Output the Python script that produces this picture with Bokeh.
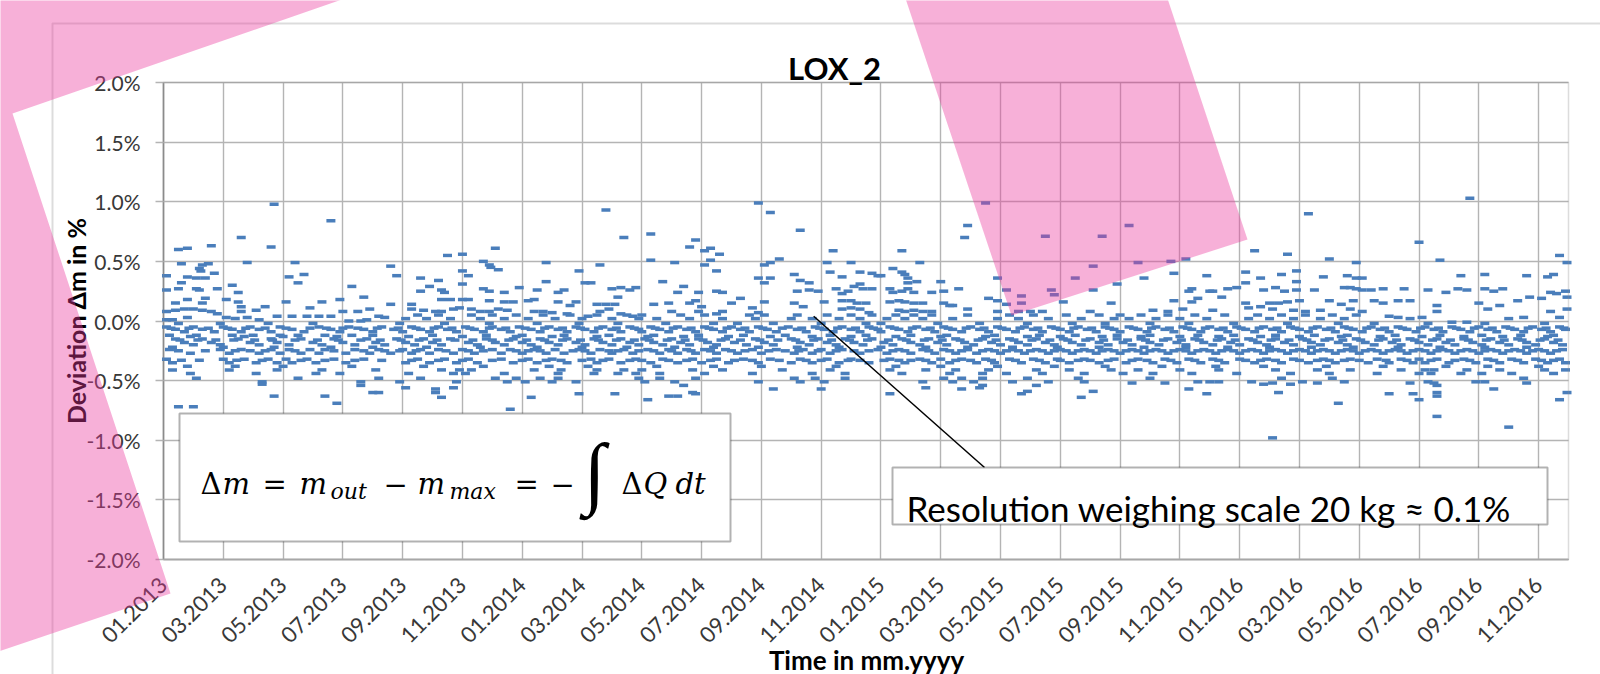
import math
from bokeh.plotting import figure
from bokeh.models import (FixedTicker, PrintfTickFormatter, Label, BoxAnnotation,
                          PolyAnnotation, Arrow, ColumnDataSource, Range1d)
from bokeh.embed import file_html
from bokeh.resources import INLINE

# ---------------- data (x = months since 01.2013, y = deviation in %) ----------------
x_tick_months = list(range(0, 47, 2))
x_tick_labels = ["01.2013", "03.2013", "05.2013", "07.2013", "09.2013", "11.2013",
                 "01.2014", "03.2014", "05.2014", "07.2014", "09.2014", "11.2014",
                 "01.2015", "03.2015", "05.2015", "07.2015", "09.2015", "11.2015",
                 "01.2016", "03.2016", "05.2016", "07.2016", "09.2016", "11.2016"]
y_ticks = [-2.0, -1.5, -1.0, -0.5, 0.0, 0.5, 1.0, 1.5, 2.0]

# readings that sit on the scale-resolution rows: months per deviation level
months_p005 = [8.5, 9.2, 10.3, 11.0, 11.8, 12.7, 13.6, 14.5, 15.5, 16.0, 17.3, 18.1, 19.6, 20.1, 21.2,
               22.2, 23.0, 23.7, 24.5, 25.1, 25.7, 26.9, 28.3, 29.1, 30.2, 31.3, 32.0, 32.7, 33.6, 34.5,
               35.5, 36.6, 37.4, 38.2, 39.1, 39.9]
months_p002 = [8.1, 8.8, 9.6, 10.6, 11.4, 12.2, 13.1, 14.0, 15.0, 15.9, 16.5, 17.6, 18.7, 19.8, 21.0,
               21.7, 22.6, 23.3, 24.2, 24.8, 25.4, 26.4, 27.9, 28.6, 29.6, 30.7, 31.8, 32.3, 33.2, 34.0,
               34.9, 36.3, 37.0, 37.8, 38.7, 39.5]
months_m002 = [0.5, 1.9, 3.5, 5.0, 7.9, 9.4, 10.9, 12.5, 13.9, 15.2, 16.8, 18.4, 19.2, 20.4, 22.0, 23.5,
               24.0, 25.9, 27.3, 28.9, 30.4, 31.5, 33.0, 34.3, 35.8, 37.6, 39.3, 40.5, 42.3, 44.2, 46.2]
months_m005 = [0.1, 1.0, 2.0, 2.9, 3.9, 5.2, 6.2, 7.3, 8.3, 9.2, 10.1, 11.0, 11.9, 12.9, 13.8, 14.7,
               15.6, 16.3, 17.2, 18.1, 19.0, 19.9, 20.9, 21.8, 22.7, 23.6, 24.3, 25.2, 26.1, 27.0, 27.9,
               28.8, 29.7, 30.6, 31.5, 32.3, 33.2, 34.1, 35.0, 35.9, 36.8, 37.7, 38.6, 39.5, 40.4, 41.3,
               42.2, 43.1, 44.0, 44.9, 45.8, 46.7]
months_m006 = [0.25, 0.85, 1.5, 2.15, 2.75, 3.4, 4.1, 4.9, 5.45, 6.0, 6.5, 7.15, 7.85, 8.45, 9.05, 9.65,
               10.25, 10.9, 11.45, 12.1, 12.75, 13.35, 13.95, 14.55, 15.15, 15.75, 16.45, 17.05, 17.65,
               18.25, 18.85, 19.45, 20.05, 20.7, 21.35, 21.95, 22.55, 23.15, 23.75, 24.45, 25.05, 25.65,
               26.25, 26.85, 27.45, 28.05, 28.65, 29.25, 29.85, 30.45, 31.05, 31.65, 32.45, 33.05, 33.65,
               34.25, 34.85, 35.45, 36.05, 36.65, 37.25, 37.85, 38.45, 39.05, 39.65, 40.25, 40.85, 41.45,
               42.05, 42.65, 43.25, 43.85, 44.45, 45.05, 45.65, 46.25, 46.85]
months_m007 = [0.4, 1.3, 2.3, 3.2, 4.3, 5.6, 6.7, 7.7, 8.6, 9.5, 10.4, 11.3, 12.3, 13.2, 14.1, 15.0,
               15.9, 16.6, 17.5, 18.4, 19.3, 20.2, 21.2, 22.1, 23.0, 23.9, 24.6, 25.5, 26.4, 27.3, 28.2,
               29.1, 30.0, 30.9, 31.8, 32.6, 33.5, 34.4, 35.3, 36.2, 37.1, 38.0, 38.9, 39.8, 40.7, 41.6,
               42.5, 43.4, 44.3, 45.2, 46.1, 46.9]
months_m009 = [0.7, 1.7, 2.6, 3.6, 4.7, 5.9, 7.0, 8.0, 8.9, 9.8, 10.7, 11.6, 12.6, 13.5, 14.4, 15.3,
               16.0, 16.9, 17.8, 18.7, 19.6, 20.5, 21.5, 22.4, 23.3, 24.0, 24.9, 25.8, 26.7, 27.6, 28.5,
               29.4, 30.3, 31.2, 32.0, 32.9, 33.8, 34.7, 35.6, 36.5, 37.4, 38.3, 39.2, 40.1, 41.0, 41.9,
               42.8, 43.7, 44.6, 45.5, 46.4]
months_m012 = [0.2, 1.1, 2.3, 3.0, 3.9, 4.5, 5.4, 6.3, 7.0, 9.0, 10.8, 12.0, 13.4, 14.9, 16.4, 17.9,
               19.4, 20.8, 22.3, 23.5, 25.0, 26.2, 27.8, 29.3, 30.5, 31.9, 33.0, 34.6, 35.8, 37.2, 38.5,
               39.6, 41.2, 42.7, 44.1, 45.4, 46.5]
months_m013 = [0.9, 2.7, 4.0, 5.8, 8.2, 10.0, 11.8, 13.0, 14.5, 16.2, 17.4, 18.9, 20.3, 21.7, 23.0, 24.5,
               26.0, 27.5, 28.9, 30.0, 31.4, 32.7, 34.0, 35.3, 36.7, 38.0, 39.4, 40.7, 42.1, 43.5, 44.8,
               46.3]
months_m015 = [0.4, 1.3, 2.5, 3.6, 4.6, 5.7, 6.8, 7.8, 8.7, 9.6, 10.8, 11.7, 12.6, 13.5, 14.4, 15.3,
               16.1, 17.0, 17.9, 18.8, 19.8, 21.0, 21.9, 22.8, 23.7, 24.7, 25.6, 26.5, 27.4, 28.3, 29.2,
               30.1, 31.0, 31.9, 32.7, 33.6, 34.5, 35.4, 36.3, 37.2, 38.1, 39.0, 39.9, 40.8, 41.7, 42.6,
               43.5, 44.4, 45.3, 46.2]
months_m016 = [0.55, 1.15, 1.75, 2.35, 3.05, 3.65, 4.4, 5.15, 5.85, 6.6, 7.25, 7.95, 8.55, 9.15, 9.75,
               10.35, 11.0, 11.55, 12.15, 12.75, 13.35, 13.95, 14.55, 15.15, 15.75, 16.25, 16.85, 17.45,
               18.05, 18.65, 19.3, 19.95, 20.55, 21.15, 21.75, 22.35, 22.95, 23.55, 24.25, 24.85, 25.45,
               26.05, 26.65, 27.25, 27.85, 28.45, 29.05, 29.65, 30.25, 30.85, 31.45, 32.25, 32.85, 33.45,
               34.05, 34.65, 35.25, 35.85, 36.45, 37.05, 37.65, 38.25, 38.85, 39.45, 40.05, 40.65, 41.25,
               41.85, 42.45, 43.05, 43.65, 44.25, 44.85, 45.45, 46.05, 46.65]
months_m018 = [0.7, 1.6, 2.9, 3.8, 5.0, 6.0, 7.1, 8.1, 9.0, 10.2, 11.1, 12.0, 12.9, 13.8, 14.7, 15.6,
               16.4, 17.3, 18.2, 19.1, 20.1, 21.3, 22.2, 23.1, 24.1, 25.0, 25.9, 26.8, 27.7, 28.6, 29.5,
               30.4, 31.3, 32.1, 33.0, 33.9, 34.8, 35.7, 36.6, 37.5, 38.4, 39.3, 40.2, 41.1, 42.0, 42.9,
               43.8, 44.7, 45.6, 46.5]
months_m020 = [1.0, 1.9, 3.2, 4.2, 5.3, 6.4, 7.4, 8.4, 9.3, 10.5, 11.4, 12.3, 13.2, 14.1, 15.0, 15.9,
               16.7, 17.6, 18.5, 19.5, 20.4, 21.6, 22.5, 23.4, 24.4, 25.3, 26.2, 27.1, 28.0, 28.9, 29.8,
               30.7, 31.6, 32.4, 33.3, 34.2, 35.1, 36.0, 36.9, 37.8, 38.7, 39.6, 40.5, 41.4, 42.3, 43.2,
               44.1, 45.0, 45.9, 46.8]
months_m022 = [0.3, 2.0, 3.7, 5.6, 7.0, 8.8, 10.6, 12.5, 14.0, 15.5, 17.1, 18.4, 19.9, 21.2, 22.6, 24.0,
               25.5, 26.9, 28.4, 29.9, 31.3, 32.8, 34.2, 35.6, 37.0, 38.4, 39.8, 41.3, 42.7, 44.2, 45.6]
months_m024 = [0.2, 1.9, 2.6, 3.6, 4.2, 4.9, 5.4, 6.4, 7.2, 8.0, 8.6, 9.2, 10.0, 11.0, 11.6, 12.4,
               13.1, 13.9, 14.6, 15.4, 16.2, 16.9, 17.5, 18.1, 18.8, 19.7, 20.5, 21.4, 22.0, 22.7, 23.9,
               24.6, 25.4, 26.1, 26.9, 27.6, 28.4, 29.2, 30.0, 30.8, 31.6, 32.4, 33.2, 34.0, 34.8, 35.6,
               36.4, 37.2, 38.0, 38.8, 39.6, 40.4, 41.2, 42.0, 42.8, 43.6, 44.4, 45.2, 46.0, 46.8]
months_m025 = [0.5, 1.4, 2.4, 2.9, 3.4, 4.4, 5.7, 6.7, 7.4, 7.9, 8.45, 9.45, 10.2, 10.7, 11.8, 12.2,
               12.6, 13.7, 14.1, 14.9, 15.2, 15.9, 16.4, 17.0, 17.65, 18.3, 19.0, 19.45, 20.25, 20.8,
               21.25, 21.9, 22.5, 23.1, 23.6, 24.4, 24.8, 25.6, 26.3, 26.7, 27.4, 27.8, 28.2, 28.6, 29.0,
               29.4, 29.8, 30.2, 30.6, 31.0, 31.4, 31.8, 32.2, 32.6, 33.0, 33.4, 33.8, 34.2, 34.6, 35.0,
               35.4, 35.8, 36.2, 36.6, 37.0, 37.4, 37.8, 38.2, 38.6, 39.0, 39.4, 39.8, 40.2, 40.6, 41.0,
               41.4, 41.8, 42.2, 42.6, 43.0, 43.4, 43.8, 44.2, 44.6, 45.0, 45.4, 45.8, 46.2, 46.6]
months_m027 = [0.9, 2.2, 3.2, 3.9, 4.6, 5.2, 6.1, 6.9, 7.6, 8.3, 8.9, 9.7, 10.4, 11.3, 12.0, 12.8,
               13.4, 14.3, 15.0, 15.7, 16.6, 17.2, 17.8, 18.5, 19.2, 20.0, 21.1, 21.7, 22.3, 23.3, 24.2,
               25.0, 25.8, 26.5, 27.2, 28.0, 28.8, 29.6, 30.4, 31.2, 32.0, 32.8, 33.6, 34.4, 35.2, 36.0,
               36.8, 37.6, 38.4, 39.2, 40.0, 40.8, 41.6, 42.4, 43.2, 44.0, 44.8, 45.6, 46.4]
months_m032 = [0.1, 2.0, 2.7, 3.5, 4.1, 4.8, 5.7, 6.7, 8.5, 9.4, 10.2, 11.3, 12.2, 13.0, 14.3, 14.9,
               15.8, 16.7, 17.7, 18.5, 19.4, 20.3, 21.3, 22.2, 23.0, 24.3, 25.3, 26.0, 26.7, 27.5, 28.3,
               29.1, 29.9, 30.8, 31.8, 32.6, 33.5, 34.3, 35.1, 36.0, 36.9, 37.8, 38.8, 39.7, 40.6, 41.4,
               42.0, 42.6, 43.5, 44.3, 45.1, 45.9, 46.7]
months_m033 = [0.6, 1.2, 2.45, 3.3, 4.6, 5.4, 6.4, 7.3, 8.3, 9.2, 10.0, 11.0, 12.0, 12.8, 13.3, 14.0,
               14.7, 15.6, 16.0, 16.9, 17.5, 18.3, 19.1, 19.7, 20.6, 21.5, 22.0, 22.9, 23.3, 24.1, 24.6,
               25.0, 25.5, 26.5, 27.0, 27.7, 28.5, 29.3, 30.0, 30.6, 31.0, 31.6, 32.4, 32.9, 33.7, 34.5,
               35.3, 36.2, 36.7, 37.2, 38.0, 38.6, 39.0, 39.5, 40.0, 40.9, 41.6, 42.4, 43.2, 43.7, 44.5,
               45.3, 46.1, 46.5]
months_m035 = [0.3, 2.2, 3.1, 3.8, 4.3, 5.1, 6.1, 8.1, 8.9, 9.8, 10.5, 11.7, 12.5, 13.5, 14.5, 15.3,
               16.3, 17.2, 18.0, 18.9, 19.9, 21.0, 21.7, 22.6, 23.6, 24.8, 25.7, 26.3, 27.2, 27.8, 28.7,
               29.5, 30.3, 31.3, 32.2, 33.1, 33.9, 34.7, 35.5, 36.5, 37.4, 38.3, 39.2, 40.3, 41.0, 41.8,
               42.2, 43.0, 43.9, 44.7, 45.5, 46.3, 46.9]
months_m038 = [0.8, 2.4, 4.0, 6.3, 8.7, 10.7, 12.9, 14.2, 16.5, 18.4, 20.0, 22.5, 24.5, 26.0, 27.9, 29.8,
               31.5, 33.4, 35.2, 36.8, 38.9, 40.8, 42.9, 44.3, 46.0]
months_m041 = [0.3, 2.2, 3.8, 5.3, 7.1, 9.3, 9.9, 10.3, 12.4, 13.3, 14.5, 15.4, 16.0, 17.7, 18.7, 20.7,
               22.3, 24.3, 25.5, 26.5, 27.6, 29.2, 30.3, 31.7, 32.6, 34.0, 35.3, 37.2, 38.6, 39.7, 41.4,
               42.2, 42.5, 43.6, 44.7, 46.2, 46.9]
months_m044 = [0.9, 3.1, 5.1, 5.9, 8.2, 9.7, 10.1, 11.4, 13.2, 14.4, 15.2, 15.8, 16.6, 18.1, 19.7, 21.7,
               22.8, 24.7, 26.3, 27.4, 28.2, 29.4, 30.8, 32.1, 33.1, 34.4, 35.9, 37.7, 39.0, 40.6, 42.0,
               42.4, 43.4, 44.1, 45.1, 46.5]
months_m048 = [1.1, 4.5, 7.2, 8.6, 11.1, 11.8, 12.6, 13.2, 15.9, 16.6, 17.8, 21.1, 21.8, 22.8, 26.1,
               26.7, 27.4, 28.9, 30.6, 33.0, 37.4, 39.1, 45.5]
months_m051 = [3.3, 6.6, 7.9, 9.8, 11.5, 12.1, 13.0, 13.8, 16.1, 17.1, 19.9, 21.3, 22.1, 25.4, 26.4,
               27.1, 28.4, 29.6, 30.8, 35.0, 38.1, 42.3]

row_levels = [0.05, 0.02, -0.02, -0.05, -0.06, -0.07, -0.09, -0.12, -0.13, -0.15, -0.16, -0.18,
              -0.20, -0.22, -0.24, -0.25, -0.27, -0.32, -0.33, -0.35, -0.38, -0.41, -0.44, -0.48, -0.51]
row_months = [months_p005, months_p002, months_m002, months_m005, months_m006, months_m007,
              months_m009, months_m012, months_m013, months_m015, months_m016, months_m018,
              months_m020, months_m022, months_m024, months_m025, months_m027, months_m032,
              months_m033, months_m035, months_m038, months_m041, months_m044, months_m048,
              months_m051]

# remaining individual readings (month, deviation %)
other_2013 = [(0.5, 0.60), (0.8, 0.61), (1.6, 0.63), (2.6, 0.70), (3.6, 0.62), (3.7, 0.98), (5.6, 0.84),
              (2.8, 0.49), (4.4, 0.49), (7.6, 0.46), (7.8, 0.38), (0.6, 0.48), (1.3, 0.47), (1.5, 0.48),
              (1.2, 0.44), (1.25, 0.42), (0.1, 0.38), (0.8, 0.37), (1.1, 0.36), (1.4, 0.36), (1.7, 0.40),
              (4.2, 0.37), (4.7, 0.39), (4.5, 0.32), (0.6, 0.32), (0.1, 0.26), (0.5, 0.27), (1.1, 0.27),
              (1.2, 0.26), (1.8, 0.27), (2.3, 0.30), (2.5, 0.24), (6.3, 0.29), (6.7, 0.20), (5.9, 0.18),
              (5.3, 0.16), (4.1, 0.16), (3.4, 0.12), (3.1, 0.09), (2.1, 0.18), (2.5, 0.16), (0.8, 0.18),
              (1.4, 0.19), (1.3, 0.15), (0.4, 0.15), (0.1, 0.08), (0.4, 0.09), (0.7, 0.10), (1.0, 0.10),
              (1.3, 0.09), (1.6, 0.08), (1.8, 0.06), (2.6, 0.12), (2.6, 0.08), (4.9, 0.11), (4.3, 0.04),
              (3.8, 0.04), (4.8, 0.04), (5.2, 0.04), (5.6, 0.04), (6.9, 0.10), (6.5, 0.08), (6.0, 0.08),
              (7.2, 0.04), (7.4, 0.03), (7.6, 0.14), (6.2, 0.00), (6.6, 0.00), (6.8, 0.01), (0.1, 0.01),
              (0.3, 0.01), (0.8, 0.03), (2.1, 0.03), (2.4, 0.02), (2.8, 0.03), (3.2, 0.01),
              (3.3, -0.53), (6.6, -0.54), (7.0, -0.60), (7.2, -0.60), (3.7, -0.63), (5.4, -0.63),
              (5.8, -0.69), (0.5, -0.72), (1.0, -0.72),
              (11.1, 0.61), (9.5, 0.55), (10.0, 0.56), (10.7, 0.50), (10.9, 0.47), (10.95, 0.45),
              (11.2, 0.43), (10.0, 0.42), (10.2, 0.38), (8.6, 0.36), (9.2, 0.34), (10.0, 0.31), (8.9, 0.29),
              (8.6, 0.25), (9.3, 0.26), (9.4, 0.24), (10.7, 0.27), (10.9, 0.25), (11.4, 0.24), (11.9, 0.28),
              (9.3, 0.18), (9.6, 0.18), (10.0, 0.18), (10.2, 0.18), (10.9, 0.17), (11.4, 0.16), (11.7, 0.16),
              (8.3, 0.14), (8.3, 0.10), (8.7, 0.09), (9.1, 0.08), (9.3, 0.08), (9.7, 0.10), (9.9, 0.11),
              (10.3, 0.10), (10.6, 0.08), (10.9, 0.08), (11.2, 0.10), (11.5, 0.09),
              (8.1, -0.56), (9.1, -0.57), (9.1, -0.60), (9.3, -0.64), (9.7, -0.56), (11.6, -0.74)]
other_2014 = [(14.8, 0.93), (15.4, 0.70), (12.8, 0.49), (14.6, 0.47), (13.9, 0.42), (12.5, 0.26),
              (12.8, 0.33), (13.2, 0.24), (13.4, 0.26), (14.1, 0.32), (14.3, 0.32), (15.0, 0.27),
              (15.3, 0.28), (15.6, 0.26), (15.8, 0.28), (15.2, 0.20), (12.2, 0.17), (12.4, 0.18),
              (13.2, 0.16), (13.6, 0.13), (13.8, 0.16), (14.5, 0.14), (14.8, 0.14), (15.1, 0.14),
              (12.4, 0.08), (12.7, 0.08), (13.0, 0.07), (13.5, 0.06), (14.2, 0.04), (14.6, 0.08),
              (14.9, 0.10), (15.3, 0.06), (15.7, 0.04), (12.3, -0.64), (13.9, -0.61), (15.1, -0.61),
              (19.9, 0.99), (20.3, 0.91), (21.3, 0.76), (16.3, 0.73), (17.8, 0.68), (17.6, 0.62),
              (18.1, 0.59), (18.3, 0.61), (18.6, 0.56), (22.4, 0.59), (16.3, 0.51), (17.1, 0.49),
              (18.1, 0.47), (18.3, 0.51), (18.5, 0.42), (20.1, 0.47), (20.3, 0.49), (20.6, 0.52),
              (19.9, 0.36), (20.1, 0.32), (20.3, 0.36), (21.1, 0.39), (21.3, 0.34), (21.6, 0.32),
              (22.2, 0.49), (22.3, 0.41), (22.7, 0.37), (23.0, 0.49), (23.3, 0.41), (23.7, 0.40),
              (23.9, 0.38), (16.7, 0.33), (17.4, 0.29), (17.2, 0.24), (17.9, 0.24), (18.5, 0.25),
              (18.7, 0.24), (19.3, 0.19), (19.0, 0.15), (16.4, 0.14), (16.9, 0.15), (17.0, 0.08),
              (17.6, 0.15), (17.8, 0.17), (18.0, 0.12), (17.9, 0.08), (18.5, 0.06), (18.7, 0.08),
              (20.1, 0.16), (19.7, 0.11), (19.9, 0.07), (21.2, 0.25), (21.6, 0.26), (21.9, 0.25),
              (22.1, 0.16), (21.4, 0.12), (21.1, 0.15), (22.5, 0.27), (22.7, 0.23), (22.9, 0.25),
              (23.1, 0.29), (23.3, 0.31), (23.4, 0.27), (23.7, 0.27), (22.7, 0.17), (23.0, 0.17),
              (23.2, 0.15), (23.5, 0.15), (22.7, 0.10), (23.0, 0.11), (23.3, 0.10), (23.6, 0.07),
              (17.4, -0.54), (17.7, -0.60), (17.8, -0.61), (16.9, -0.63), (17.2, -0.63), (16.2, -0.66),
              (20.4, -0.57), (22.0, -0.57)]
other_2015 = [(27.5, 0.99), (26.9, 0.80), (26.8, 0.70), (29.5, 0.71), (31.4, 0.71), (24.7, 0.59),
              (25.3, 0.49), (31.1, 0.46), (30.5, 0.36), (24.4, 0.44), (24.7, 0.41), (24.8, 0.39),
              (24.0, 0.38), (24.9, 0.36), (25.2, 0.33), (24.9, 0.32), (26.0, 0.33), (26.6, 0.27),
              (26.1, 0.25), (27.9, 0.36), (28.2, 0.26), (28.7, 0.21), (28.7, 0.15), (28.6, 0.08),
              (29.7, 0.26), (29.8, 0.22), (31.1, 0.26), (31.9, 0.31), (30.1, 0.16), (24.3, 0.27),
              (24.4, 0.24), (24.7, 0.25), (24.9, 0.27), (25.1, 0.24), (24.3, 0.16), (24.6, 0.17),
              (24.8, 0.16), (25.1, 0.15), (25.4, 0.15), (25.7, 0.24), (26.1, 0.15), (26.3, 0.13),
              (27.6, 0.19), (27.9, 0.17), (28.2, 0.14), (24.6, 0.09), (24.8, 0.08), (25.1, 0.09),
              (25.4, 0.08), (25.7, 0.08), (26.4, 0.13), (26.9, 0.10), (27.9, 0.08), (29.0, 0.08),
              (29.4, 0.08), (31.0, 0.08), (31.7, 0.15), (25.5, -0.56), (26.7, -0.57), (27.3, -0.56),
              (27.4, -0.54), (29.2, -0.54), (28.7, -0.61), (28.9, -0.59), (31.1, -0.59), (30.7, -0.64),
              (24.3, -0.61), (32.3, 0.80), (32.6, 0.49), (33.7, 0.50), (34.2, 0.52), (32.8, 0.36),
              (33.8, 0.40), (34.9, 0.38), (34.3, 0.25), (34.4, 0.27), (35.0, 0.25), (35.1, 0.25),
              (35.6, 0.27), (35.9, 0.28), (34.6, 0.19), (35.4, 0.20), (33.8, 0.17), (34.4, 0.16),
              (33.1, 0.09), (33.6, 0.08), (34.1, 0.10), (35.1, 0.09), (32.4, -0.52), (33.5, -0.52),
              (34.6, -0.51), (35.3, -0.51), (34.3, -0.57), (34.9, -0.61)]
other_2016 = [(38.3, 0.90), (36.5, 0.59), (37.6, 0.56), (39.0, 0.52), (36.2, 0.41), (36.7, 0.36),
              (37.4, 0.39), (37.9, 0.42), (37.9, 0.33), (38.8, 0.37), (39.6, 0.38), (39.9, 0.49),
              (39.9, 0.36), (36.2, 0.32), (36.8, 0.26), (37.2, 0.28), (37.5, 0.25), (37.9, 0.26),
              (38.5, 0.26), (39.5, 0.28), (39.7, 0.28), (39.9, 0.27), (36.2, 0.15), (37.0, 0.15),
              (37.3, 0.15), (37.6, 0.16), (38.0, 0.17), (39.0, 0.17), (39.4, 0.14), (39.8, 0.17),
              (36.3, 0.11), (36.7, 0.12), (37.1, 0.10), (37.8, 0.09), (38.2, 0.08), (38.7, 0.09),
              (39.7, 0.10), (36.4, -0.51), (36.8, -0.53), (37.1, -0.52), (37.7, -0.53), (38.6, -0.52),
              (39.5, -0.51), (37.3, -0.60), (39.3, -0.69), (37.1, -0.98), (43.7, 1.03), (42.0, 0.66),
              (42.7, 0.51), (46.7, 0.55), (46.95, 0.49), (43.4, 0.38), (44.2, 0.39), (45.6, 0.38),
              (46.3, 0.37), (46.5, 0.39), (40.1, 0.36), (40.1, 0.26), (40.4, 0.26), (40.8, 0.27),
              (41.5, 0.27), (42.3, 0.26), (42.9, 0.24), (43.3, 0.27), (43.6, 0.26), (44.2, 0.27),
              (44.5, 0.25), (44.8, 0.27), (45.7, 0.20), (46.4, 0.24), (46.9, 0.25), (40.5, 0.17),
              (40.8, 0.15), (41.3, 0.17), (41.7, 0.17), (42.6, 0.13), (44.0, 0.15), (44.3, 0.10),
              (44.7, 0.13), (45.3, 0.17), (46.1, 0.19), (46.6, 0.23), (46.95, 0.20), (40.1, 0.08),
              (41.0, 0.04), (41.3, 0.03), (41.7, 0.02), (42.1, 0.03), (42.6, 0.08), (43.1, -0.01),
              (43.6, -0.01), (45.0, 0.02), (45.5, 0.03), (46.4, 0.08), (46.7, 0.03), (46.95, 0.10),
              (41.7, -0.52), (42.5, -0.52), (42.6, -0.54), (43.9, -0.51), (44.2, -0.51), (44.5, -0.57),
              (45.6, -0.52), (41.0, -0.61), (41.8, -0.61), (42.0, -0.66), (42.6, -0.60), (42.6, -0.63),
              (46.7, -0.66), (46.95, -0.60), (42.6, -0.80), (45.0, -0.89)]

xs, ys = [], []
for lvl, ms in zip(row_levels, row_months):
    xs.extend(ms)
    ys.extend([lvl] * len(ms))
for pts in (other_2013, other_2014, other_2015, other_2016):
    for t, v in pts:
        xs.append(t)
        ys.append(v)
source = ColumnDataSource(data=dict(month=xs, dev=ys))

# ---------------- layout (the plot frame fills the page; axes sit at fixed spots) ----------------
W, H = 1600, 674
FL, FR, FT, FB = 163, 1568, 82, 559      # chart area in pixels
X0, X1 = 0, 47
Y0, Y1 = -2.0, 2.0


def px_x(px):
    return X0 + (px - FL) / (FR - FL) * (X1 - X0)


def px_y(py):
    return Y0 + (FB - py) / (FB - FT) * (Y1 - Y0)


p = figure(width=W, height=H, x_range=Range1d(px_x(0), px_x(W)), y_range=Range1d(px_y(H), px_y(0)),
           title=None, output_backend="svg", toolbar_location=None,
           min_border=0, min_border_left=0, min_border_right=0, min_border_top=0, min_border_bottom=0)
p.background_fill_color = "white"
p.border_fill_color = "white"
p.outline_line_color = None
p.xgrid.visible = False
p.ygrid.visible = False

GRID = "#b4b4b4"
xa = p.xaxis[0]
xa.fixed_location = Y0
xa.bounds = (X0, X1)
xa.level = "underlay"
xa.ticker = FixedTicker(ticks=x_tick_months)
xa.major_label_overrides = {m: lab for m, lab in zip(x_tick_months, x_tick_labels)}
xa.major_label_orientation = math.pi / 4
xa.major_label_text_font = "Lato"
xa.major_label_text_font_size = "22px"
xa.major_label_text_color = "#383838"
xa.major_label_standoff = 22
xa.major_tick_out = 0
xa.major_tick_in = FB - FT            # long inward ticks act as vertical gridlines
xa.major_tick_line_color = GRID
xa.major_tick_line_width = 1.4
xa.minor_tick_out = 0
xa.minor_tick_in = 0
xa.axis_line_color = "#8c8c8c"
xa.axis_line_width = 1.5

ya = p.yaxis[0]
ya.fixed_location = X0
ya.bounds = (Y0, Y1)
ya.level = "underlay"
ya.ticker = FixedTicker(ticks=y_ticks)
ya.formatter = PrintfTickFormatter(format="%.1f%%")
ya.major_label_text_font = "Lato"
ya.major_label_text_font_size = "21px"
ya.major_label_text_color = "#383838"
ya.major_tick_out = 8
ya.major_tick_in = FR - FL            # long inward ticks act as horizontal gridlines
ya.major_tick_line_color = GRID
ya.major_tick_line_width = 1.4
ya.minor_tick_out = 0
ya.minor_tick_in = 0
ya.major_label_standoff = 15
ya.axis_line_color = "#8c8c8c"
ya.axis_line_width = 1.5
ya.axis_label = "Deviation \u0394m in %"
ya.axis_label_text_font = "Lato"
ya.axis_label_text_font_style = "bold"
ya.axis_label_text_font_size = "25px"
ya.axis_label_text_color = "black"
ya.axis_label_standoff = -7

p.scatter("month", "dev", source=source, marker="dash", size=9, line_width=3.5,
          line_color="#4A7EBB")

# plot-area outline and outer chart-area border
p.add_layout(BoxAnnotation(left=X0, right=X1, bottom=Y0, top=Y1, fill_alpha=0,
                           line_color="#8c8c8c", line_width=1.5))
p.add_layout(PolyAnnotation(xs=[px_x(52), px_x(52), px_x(1700), px_x(1700)],
                            ys=[px_y(760), px_y(23), px_y(23), px_y(760)],
                            fill_alpha=0, line_color="#8c8c8c", line_width=2))

# title and x-axis title
p.add_layout(Label(x=px_x(834), y=px_y(67), text="LOX_2", text_align="center",
                   text_baseline="alphabetic", text_font="Lato", text_font_style="bold",
                   text_font_size="31px", text_color="black"))
p.add_layout(Label(x=px_x(866), y=px_y(643), text="Time in mm.yyyy", text_align="center",
                   text_baseline="top", text_font="Lato", text_font_style="bold",
                   text_font_size="26px", text_color="black"))

# formula box
p.add_layout(BoxAnnotation(left=px_x(179), right=px_x(730), top=px_y(413), bottom=px_y(541),
                           fill_color="white", fill_alpha=1.0, line_color="black", line_width=2))
formula_parts = [
    ("\u0394", 200, 483, 29, "normal"), ("m", 222, 483, 29, "italic"),
    ("=", 262, 483, 29, "normal"), ("m", 299, 483, 29, "italic"),
    ("out", 330, 491, 22, "italic"), ("\u2212", 383, 483, 29, "normal"),
    ("m", 417, 483, 29, "italic"), ("max", 449, 491, 22, "italic"),
    ("=", 514, 483, 29, "normal"), ("\u2212", 550, 483, 29, "normal"),
    ("\u0394", 621, 483, 29, "normal"), ("Q", 643, 483, 29, "italic"),
    ("dt", 675, 483, 29, "italic"),
]
for txt, lx, by, fs, style in formula_parts:
    p.add_layout(Label(x=px_x(lx), y=px_y(by), text=txt, text_align="left",
                       text_baseline="alphabetic", text_font="DejaVu Serif",
                       text_font_style=style, text_font_size=f"{fs}px", text_color="black"))
p.add_layout(Label(x=px_x(583), y=px_y(471), text="\u222b", text_align="left",
                   text_baseline="middle", text_font="Liberation Serif",
                   text_font_size="80px", text_color="black"))

# resolution note with leader line
p.add_layout(Arrow(end=None, x_start=21.75, y_start=0.04, x_end=px_x(984), y_end=px_y(467),
                   line_color="black", line_width=1.5))
p.add_layout(BoxAnnotation(left=px_x(892), right=px_x(1547), top=px_y(467), bottom=px_y(524),
                           fill_color="white", fill_alpha=1.0, line_color="black", line_width=2))
p.add_layout(Label(x=px_x(906), y=px_y(507), text="Resolution weighing scale 20 kg \u2248 0.1%",
                   text_align="left", text_baseline="alphabetic", text_font="Lato",
                   text_font_size="35px", text_color="black"))

# translucent pink decorations lying over the slide
PINK = "#EB3A9E"
p.add_layout(PolyAnnotation(xs=[px_x(-5), px_x(353), px_x(12), px_x(170), px_x(-5)],
                            ys=[px_y(-5), px_y(-5), px_y(113), px_y(593), px_y(652)],
                            fill_color=PINK, fill_alpha=0.4, line_color=None, level="overlay"))
p.add_layout(PolyAnnotation(xs=[px_x(904), px_x(1166), px_x(1247), px_x(1011)],
                            ys=[px_y(-5), px_y(-5), px_y(239), px_y(315)],
                            fill_color=PINK, fill_alpha=0.4, line_color=None, level="overlay"))

open("out.html", "w").write(file_html(p, INLINE))
